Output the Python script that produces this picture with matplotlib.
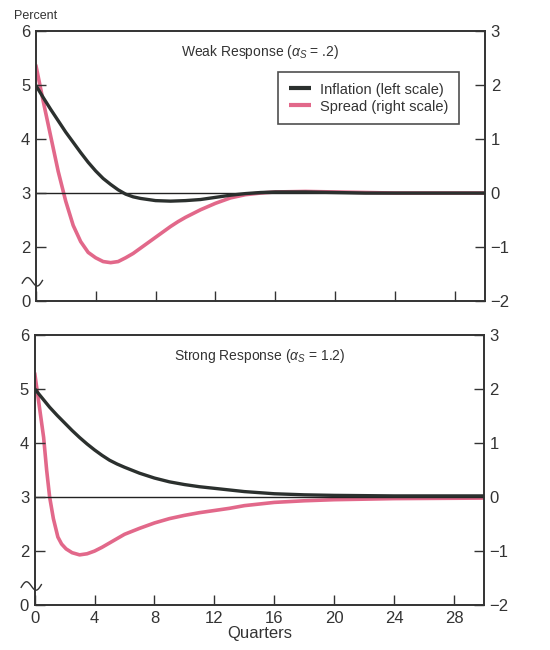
import numpy as np
from matplotlib import pyplot as plt

# Quarters and responses
weak_q = [0, 0.5, 1, 1.5, 2, 2.5, 3, 3.5, 4, 4.5, 5, 5.5, 6, 6.5, 7, 8, 9, 10, 11, 12,
          13, 14, 15, 16, 18, 20, 22, 26, 30]
weak_inflation = [5.0, 4.77, 4.55, 4.34, 4.13, 3.94, 3.75, 3.57, 3.41, 3.27, 3.16, 3.06,
                  2.98, 2.93, 2.9, 2.86, 2.85, 2.86, 2.88, 2.92, 2.96, 2.99, 3.01, 3.02,
                  3.02, 3.01, 3.0, 3.0, 3.0]

weak_spread_q = [0, 0.5, 1, 1.5, 2, 2.5, 3, 3.5, 4, 4.5, 5, 5.5, 6, 6.5, 7, 7.5, 8, 8.5,
                 9, 9.5, 10, 11, 12, 13, 14, 15, 16, 18, 20, 22, 24, 30]
weak_spread = [2.38, 1.7, 1.05, 0.4, -0.15, -0.6, -0.9, -1.1, -1.2, -1.27, -1.29, -1.27,
               -1.2, -1.12, -1.02, -0.92, -0.82, -0.72, -0.62, -0.53, -0.45, -0.31,
               -0.19, -0.09, -0.03, 0.0, 0.02, 0.03, 0.02, 0.01, 0.0, 0.0]

strong_q = [0, 0.5, 1, 1.5, 2, 2.5, 3, 3.5, 4, 4.5, 5, 5.5, 6, 7, 8, 9, 10, 11, 12, 13,
            14, 15, 16, 18, 20, 24, 30]
strong_inflation = [5.0, 4.83, 4.66, 4.51, 4.37, 4.23, 4.1, 3.98, 3.87, 3.77, 3.68, 3.61,
                    3.55, 3.44, 3.35, 3.28, 3.23, 3.19, 3.16, 3.13, 3.1, 3.08, 3.06,
                    3.04, 3.03, 3.02, 3.02]

strong_spread_q = [0, 0.3, 0.6, 0.8, 1.0, 1.25, 1.55, 1.8, 2.1, 2.5, 3, 3.5, 4, 4.5, 5,
                   5.5, 6, 7, 8, 9, 10, 11, 12, 13, 14, 15, 16, 18, 20, 24, 30]
strong_spread = [2.3, 1.7, 1.1, 0.5, 0.0, -0.4, -0.74, -0.87, -0.96, -1.03, -1.07,
                 -1.05, -1.0, -0.93, -0.85, -0.77, -0.69, -0.58, -0.48, -0.4, -0.34,
                 -0.29, -0.25, -0.21, -0.16, -0.13, -0.1, -0.07, -0.05, -0.03, -0.02]

left_ticks = [1, 2, 3, 4, 5, 6]
left_labels = ['0', '2', '3', '4', '5', '6']
right_ticks = [-2, -1, 0, 1, 2, 3]
right_labels = ['\u22122', '\u22121', '0', '1', '2', '3']
x_ticks = [0, 4, 8, 12, 16, 20, 24, 28]

plt.rcParams['font.family'] = ['Liberation Sans', 'DejaVu Sans']
plt.rcParams['mathtext.fontset'] = 'custom'
plt.rcParams['mathtext.rm'] = 'Liberation Sans'
plt.rcParams['mathtext.it'] = 'Liberation Sans:italic'

BLACK = '#2b302e'
PINK = '#e2688a'
TEXT = '#333333'

fig = plt.figure(figsize=(5.5, 6.5), dpi=100)
ax_top = fig.add_axes([0.065, 0.537, 0.817, 0.415])
ax_bot = fig.add_axes([0.063, 0.069, 0.817, 0.416])

panels = [
    (ax_top, weak_q, weak_inflation, weak_spread_q, weak_spread,
     r'Weak Response ($\alpha_S$ = .2)'),
    (ax_bot, strong_q, strong_inflation, strong_spread_q, strong_spread,
     r'Strong Response ($\alpha_S$ = 1.2)'),
]

for ax, q, infl, sq, spr, title in panels:
    ax2 = ax.twinx()
    ax.set_xlim(0, 30)
    ax.set_ylim(1, 6)
    ax2.set_ylim(-2, 3)

    ax.axhline(3, color='#222222', lw=1.0, zorder=1)
    l1, = ax.plot(q, infl, color=BLACK, lw=2.4, solid_capstyle='butt',
                  solid_joinstyle='round', zorder=3, label='Inflation (left scale)')
    l2, = ax2.plot(sq, spr, color=PINK, lw=2.6, solid_capstyle='butt',
                   solid_joinstyle='round', zorder=2, label='Spread (right scale)')

    ax.set_yticks(left_ticks)
    ax.set_yticklabels(left_labels)
    ax2.set_yticks(right_ticks)
    ax2.set_yticklabels(right_labels)
    ax.set_xticks(x_ticks)

    for a in (ax, ax2):
        a.tick_params(direction='in', length=7, width=1.0, colors='#333333',
                      labelsize=12, labelcolor=TEXT, pad=4)
        for s in a.spines.values():
            s.set_linewidth(1.2)
            s.set_color('#333333')

    ax.text(0.5, 0.955, title, transform=ax.transAxes, ha='center', va='top',
            fontsize=10, color=TEXT)

    # axis break squiggle on the left axis
    t = np.linspace(0, 1, 40)
    sx = -0.03 + 0.045 * t
    sy = 0.066 + 0.018 * np.sin(2 * np.pi * t) + 0.01 * t
    ax.plot(sx, sy, transform=ax.transAxes, color='#333333', lw=1.0, clip_on=False)

    ax.set_zorder(ax2.get_zorder() + 1)
    ax.patch.set_visible(False)

    if ax is ax_top:
        ax.tick_params(labelbottom=False)
        leg = ax.legend([l1, l2], [l1.get_label(), l2.get_label()],
                        loc='upper left', bbox_to_anchor=(0.54, 0.85),
                        fontsize=10.5, frameon=True, fancybox=False,
                        handlelength=1.5, handletextpad=0.6, borderpad=0.75,
                        labelspacing=0.2, borderaxespad=0)
        leg.get_frame().set_edgecolor('#222222')
        leg.get_frame().set_linewidth(1.2)
        for txt in leg.get_texts():
            txt.set_color(TEXT)
        for h in leg.legend_handles:
            h.set_linewidth(3)

ax_bot.set_xlabel('Quarters', fontsize=12, color=TEXT, labelpad=0)
fig.text(0.025, 0.975, 'Percent', fontsize=9, color=TEXT, ha='left', va='center')

fig.savefig('out.png', dpi=100)
